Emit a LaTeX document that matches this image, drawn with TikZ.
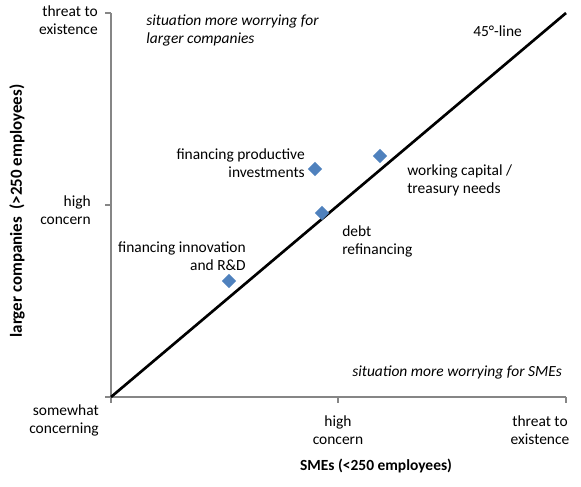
\documentclass[tikz,border=0pt]{standalone}
\usepackage{fontspec}
\setmainfont{Carlito}
\usetikzlibrary{shapes.geometric}
\definecolor{axisGray}{RGB}{134,134,134}
\definecolor{pointBlue}{RGB}{79,129,189}
\tikzset{
    % Text Styles
    baseText/.style={font=\fontsize{11.6}{13.5}\selectfont, inner sep=0pt},
    tickLabelL/.style={baseText, align=right, anchor=base east},
    tickLabelB/.style={baseText, align=center, anchor=base},
    pointLabelL/.style={baseText, align=right, anchor=base east},
    pointLabelR/.style={baseText, align=left, anchor=base west},
    noteText/.style={baseText, font=\fontsize{11.6}{13.5}\selectfont\itshape, align=left, anchor=base west},
    axisTitle/.style={baseText, font=\fontsize{11.6}{13.5}\selectfont\bfseries},
    % Marker & Line Styles
    dataPoint/.style={diamond, fill=pointBlue, minimum size=11pt, inner sep=0pt},
    axisLine/.style={draw=axisGray, line width=1.1pt},
    diagLine/.style={draw=black, line width=2pt}
}

\begin{document}
\begin{tikzpicture}[x=0.75pt, y=-0.75pt]

    \useasboundingbox (0,0) rectangle (581,486);

    % --- Axes ---
    \coordinate (origin) at (111,397);
    \coordinate (xEnd) at (566,397);
    \coordinate (yEnd) at (111,13);
    \coordinate (xMid) at (338,397);
    \coordinate (yMid) at (111,205);

    \draw [axisLine] (yEnd) -- (origin) -- (xEnd);
    \draw [axisLine] (yEnd) -- ++(-6,0);
    \draw [axisLine] (yMid) -- ++(-6,0);
    \draw [axisLine] (origin) -- ++(-6,0);
    \draw [axisLine] (origin) -- ++(0,6);
    \draw [axisLine] (xMid) -- ++(0,6);
    \draw [axisLine] (xEnd) -- ++(0,6);

    % --- 45 degree line ---
    \draw [diagLine] (origin) -- (566,13);
    \node (diagLabel) [baseText, anchor=base west] at (473,36) {45°-line};

    % --- Tick labels (anchored at the last line) ---
    \node (yTop) [tickLabelL] at (98,34) {threat to\\existence};
    \node (yHigh) [tickLabelL] at (91,224) {high\\concern};
    \node (yLow) [tickLabelL] at (99,433) {somewhat\\concerning};
    \node (xHigh) [tickLabelB] at (338,444) {high\\concern};
    \node (xTop) [tickLabelB] at (540,444) {threat to\\existence};

    % --- Axis titles ---
    \node (xTitle) [axisTitle, anchor=base] at (376,470) {SMEs (<250 employees)};
    \node (yTitle) [axisTitle, font=\fontsize{12.7}{15}\selectfont\bfseries, rotate=90] at (17,211) {larger companies~~(>250 employees)};

    % --- Notes ---
    \node (noteLarge) [noteText] at (146,43) {situation more worrying for\\larger companies};
    \node (noteSME) [noteText] at (352,376) {situation more worrying for SMEs};

    % --- Data points ---
    \node (dInno) [dataPoint] at (229,281) {};
    \node (dDebt) [dataPoint] at (322,213) {};
    \node (dProd) [dataPoint] at (315,169) {};
    \node (dWork) [dataPoint] at (380,156) {};

    \node (lInno) [pointLabelL] at (246,270) {financing innovation\\and R\&D};
    \node (lDebt) [pointLabelR] at (342,254) {debt\\refinancing};
    \node (lProd) [pointLabelL] at (305,177) {financing productive\\investments};
    \node (lWork) [pointLabelR] at (407,193) {working capital /\\treasury needs};

\end{tikzpicture}
\end{document}
